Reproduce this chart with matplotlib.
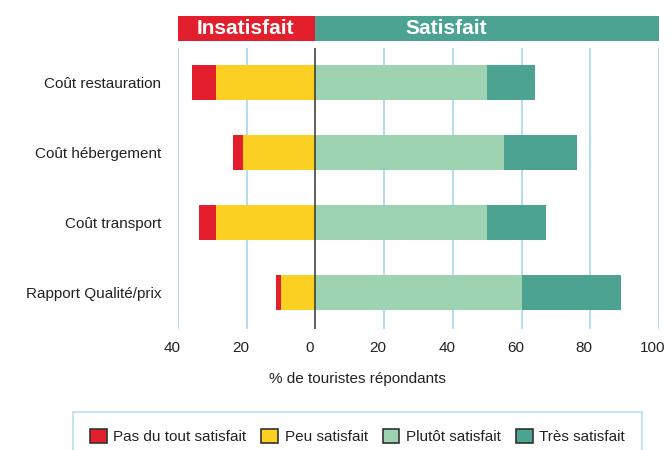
import matplotlib
matplotlib.use("Agg")
import matplotlib.pyplot as plt
from matplotlib.patches import Patch, Rectangle
from matplotlib.transforms import blended_transform_factory, ScaledTranslation

plt.rcParams['font.family'] = ['Liberation Sans', 'DejaVu Sans']

categories = ["Coût restauration", "Coût hébergement", "Coût transport", "Rapport Qualité/prix"]
pas_du_tout = [7, 3, 5, 1.5]
peu = [29, 21, 29, 10]
plutot = [50, 55, 50, 60]
tres = [14, 21, 17, 29]
series_labels = ["Pas du tout satisfait", "Peu satisfait", "Plutôt satisfait", "Très satisfait"]
x_ticks = [-40, -20, 0, 20, 40, 60, 80, 100]
x_ticklabels = ["40", "20", "0", "20", "40", "60", "80", "100"]

RED = "#e41f2d"
YELLOW = "#fbd022"
LIGHT_GREEN = "#9dd3b0"
DARK_GREEN = "#4ca392"
GRID = "#acd9f2"
TEXT = "#222222"

fig = plt.figure(figsize=(6.7, 4.5), dpi=100)
ax = fig.add_axes([178 / 670, 1 - 329 / 450, 481 / 670, 281 / 450])

y = list(range(len(categories)))
h = 0.5

# negative side (dissatisfied), stacked outward from zero
neg_peu = [-v for v in peu]
neg_pas_left = [-(a + b) for a, b in zip(peu, pas_du_tout)]
ax.barh(y, peu, left=neg_peu, height=h, color=YELLOW, zorder=3)
ax.barh(y, pas_du_tout, left=neg_pas_left, height=h, color=RED, zorder=3)
# positive side (satisfied)
ax.barh(y, plutot, left=0, height=h, color=LIGHT_GREEN, zorder=3)
ax.barh(y, tres, left=plutot, height=h, color=DARK_GREEN, zorder=3)

ax.set_xlim(-40, 100)
ax.set_ylim(len(categories) - 0.48, -0.49)
ax.set_xticks(x_ticks)
ax.set_xticklabels(x_ticklabels)
ax.set_yticks(y)
ax.set_yticklabels(categories)
ax.tick_params(axis='both', length=0, labelsize=11, colors=TEXT)
ax.tick_params(axis='x', pad=9)
ax.tick_params(axis='y', pad=12)

# tick numbers sit slightly left of their grid lines
shift = ScaledTranslation(-6 / 100, 0, fig.dpi_scale_trans)
for lbl in ax.get_xticklabels():
    lbl.set_transform(lbl.get_transform() + shift)

for xt in x_ticks:
    if xt == 0:
        ax.axvline(0, color="#333333", lw=1.1, zorder=4)
    else:
        ax.axvline(xt, color=GRID, lw=1.3, zorder=1)

for s in ax.spines.values():
    s.set_visible(False)

ax.text(0.374, -0.178, "% de touristes répondants", transform=ax.transAxes,
        ha="center", va="center", fontsize=11, color=TEXT)

# header bands above the plot
tr = blended_transform_factory(ax.transData, fig.transFigure)
band_y = 1 - 41 / 450
band_h = 25 / 450
fig.add_artist(Rectangle((-40, band_y), 40, band_h, transform=tr, color=RED, lw=0))
fig.add_artist(Rectangle((0, band_y), 100, band_h, transform=tr, color=DARK_GREEN, lw=0))
fig.text(-20.5, band_y + band_h / 2, "Insatisfait", transform=tr, ha="center", va="center",
         color="white", fontsize=15, fontweight="bold")
fig.text(38, band_y + band_h / 2, "Satisfait", transform=tr, ha="center", va="center",
         color="white", fontsize=15, fontweight="bold")

handles = [Patch(facecolor=c, edgecolor="#333333", lw=1.2) for c in (RED, YELLOW, LIGHT_GREEN, DARK_GREEN)]
leg = fig.legend(handles, series_labels, loc="upper left",
                 bbox_to_anchor=(73 / 670, 1 - 412 / 450 - 0.01, (642 - 73) / 670, 0.01),
                 mode="expand", ncol=4, fontsize=11, frameon=True, fancybox=False,
                 handlelength=1.1, handleheight=1.1, handletextpad=0.45,
                 columnspacing=1.2, borderpad=1.1, borderaxespad=0)
leg.get_frame().set_edgecolor(GRID)
leg.get_frame().set_linewidth(1.3)
for t in leg.get_texts():
    t.set_color(TEXT)

fig.savefig("out.png", dpi=100)
